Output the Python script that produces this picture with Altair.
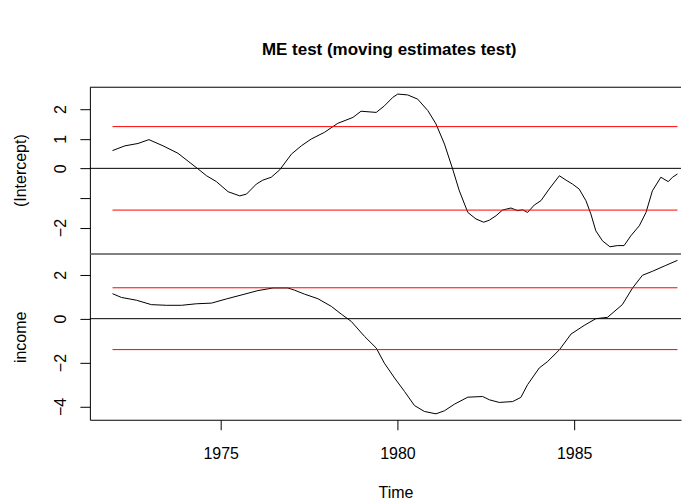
import altair as alt
import pandas as pd

FONT = "Liberation Sans"

# ---- data ----
time_intercept = [1971.94, 1972.29, 1972.66, 1972.97, 1973.37, 1973.79, 1974.08, 1974.36, 1974.60, 1974.88,
                  1975.21, 1975.54, 1975.73, 1976.01, 1976.19, 1976.43, 1976.67, 1977.00, 1977.28, 1977.56,
                  1977.94, 1978.31, 1978.74, 1978.97, 1979.40, 1979.63, 1979.87, 1980.01, 1980.29, 1980.57,
                  1980.86, 1981.09, 1981.33, 1981.56, 1981.75, 1981.99, 1982.22, 1982.44, 1982.60, 1982.79,
                  1982.97, 1983.21, 1983.40, 1983.54, 1983.68, 1983.87, 1984.06, 1984.29, 1984.58, 1984.77,
                  1984.95, 1985.14, 1985.33, 1985.47, 1985.61, 1985.80, 1986.01, 1986.22, 1986.41, 1986.60,
                  1986.84, 1987.03, 1987.21, 1987.45, 1987.66, 1987.78, 1987.92]
value_intercept = [0.60, 0.76, 0.84, 0.97, 0.76, 0.51, 0.24, -0.02, -0.25, -0.45,
                   -0.79, -0.93, -0.87, -0.53, -0.40, -0.30, -0.05, 0.48, 0.76, 0.99,
                   1.22, 1.52, 1.72, 1.93, 1.89, 2.11, 2.40, 2.51, 2.48, 2.34,
                   1.95, 1.50, 0.82, -0.02, -0.76, -1.49, -1.71, -1.82, -1.75, -1.60,
                   -1.41, -1.34, -1.43, -1.40, -1.49, -1.24, -1.09, -0.70, -0.25, -0.40,
                   -0.53, -0.70, -1.09, -1.54, -2.11, -2.45, -2.65, -2.61, -2.61, -2.28,
                   -1.94, -1.49, -0.76, -0.30, -0.45, -0.30, -0.19]

time_income = [1971.94, 1972.19, 1972.62, 1973.04, 1973.47, 1973.89, 1974.31, 1974.74, 1975.16, 1975.63,
               1976.05, 1976.48, 1976.90, 1977.09, 1977.37, 1977.75, 1978.13, 1978.41, 1978.69, 1979.07,
               1979.40, 1979.63, 1979.92, 1980.20, 1980.48, 1980.76, 1981.09, 1981.33, 1981.61, 1981.99,
               1982.41, 1982.60, 1982.88, 1983.26, 1983.49, 1983.68, 1984.01, 1984.25, 1984.58, 1984.91,
               1985.28, 1985.61, 1985.94, 1986.36, 1986.65, 1986.93, 1987.21, 1987.59, 1987.92]
value_income = [1.14, 0.97, 0.84, 0.64, 0.61, 0.61, 0.68, 0.71, 0.90, 1.10,
                1.28, 1.40, 1.40, 1.30, 1.12, 0.91, 0.56, 0.21, -0.12, -0.81,
                -1.34, -2.03, -2.71, -3.32, -3.96, -4.23, -4.34, -4.20, -3.90, -3.58,
                -3.55, -3.70, -3.82, -3.78, -3.59, -3.01, -2.25, -1.95, -1.42, -0.70,
                -0.31, 0.00, 0.06, 0.64, 1.40, 1.98, 2.16, 2.43, 2.66]

boundary = 1.41
x_ticks = [1975, 1980, 1985]
y_ticks_intercept = [-2, -1, 0, 1, 2]
y_ticks_income = [-4, -3, -2, -1, 0, 1, 2]
x_domain = [1971.30, 1988.02]
y_domain_intercept = [-2.86, 2.74]
y_domain_income = [-4.61, 2.95]

W, H = 592, 166


def panel(times, values, ydom, yticks, label_expr, ytitle, bottom):
    xscale = alt.Scale(domain=x_domain, nice=False, zero=False)
    yscale = alt.Scale(domain=ydom, nice=False, zero=False)
    if bottom:
        xaxis = alt.Axis(values=x_ticks, format="d", title="Time", grid=False,
                         domainColor="black", tickColor="black", tickSize=10,
                         labelFont=FONT, labelFontSize=16, labelColor="black",
                         labelBaseline="alphabetic", labelPadding=29, labelFlush=False,
                         titleFont=FONT, titleFontSize=16, titleFontWeight="normal",
                         titleColor="black", titleBaseline="alphabetic", titleAlign="center",
                         titleX=306, titleY=78)
    else:
        xaxis = None
    yaxis = alt.Axis(values=yticks, labelExpr=label_expr, title=ytitle, grid=False,
                     domainColor="black", tickColor="black", tickSize=10,
                     labelFont=FONT, labelFontSize=16, labelColor="black",
                     labelAngle=270, labelAlign="center", labelBaseline="alphabetic",
                     labelPadding=14, labelOverlap=False, labelBound=False,
                     titleFont=FONT, titleFontSize=16, titleFontWeight="normal",
                     titleColor="black", titleAngle=270, titleAlign="center",
                     titleBaseline="alphabetic", titleX=-64, titleY=H / 2)
    x = alt.X("t:Q", scale=xscale, axis=xaxis)
    y = alt.Y("v:Q", scale=yscale, axis=yaxis)

    t0, t1 = times[0], times[-1]
    n = len(times)
    df = pd.DataFrame({
        "t": list(times) + [t0, t1, t0, t1],
        "v": list(values) + [boundary, boundary, -boundary, -boundary],
        "g": ["s"] * n + ["u", "u", "l", "l"],
    })
    base = alt.Chart(df)

    line = base.mark_line(color="black", strokeWidth=1).encode(x=x, y=y).transform_filter(
        "datum.g == 's'")
    red = base.mark_line(color="#ff0000", strokeWidth=1).encode(
        x=x, y=y, detail="g:N").transform_filter("datum.g != 's'")
    zero = base.mark_rule(color="black", strokeWidth=1).encode(
        y=alt.datum(0)).transform_filter("datum.g == 'u' && datum.t == %r" % t0)
    border = base.mark_rule(color="black", strokeWidth=1).encode(
        y=alt.value(0)).transform_filter("datum.g == 'u' && datum.t == %r" % t0)

    return alt.layer(line, red, zero, border).properties(width=W, height=H)


top = panel(time_intercept, value_intercept, y_domain_intercept, y_ticks_intercept,
            "datum.value == -1 ? '' : datum.label", "(Intercept)", False)
bot = panel(time_income, value_income, y_domain_income, y_ticks_income,
            "datum.value % 2 == 0 ? datum.label : ''", "income", True)

chart = alt.vconcat(top, bot, spacing=0).properties(
    title=alt.TitleParams("ME test (moving estimates test)", font=FONT, fontSize=17,
                          fontWeight="bold", color="black", anchor="middle", dx=42,
                          baseline="alphabetic", offset=15),
    padding={"left": 5, "top": 32, "right": 0, "bottom": 0},
).configure_view(stroke=None)

chart.save("out.html", embed_options={"renderer": "svg", "actions": False})
